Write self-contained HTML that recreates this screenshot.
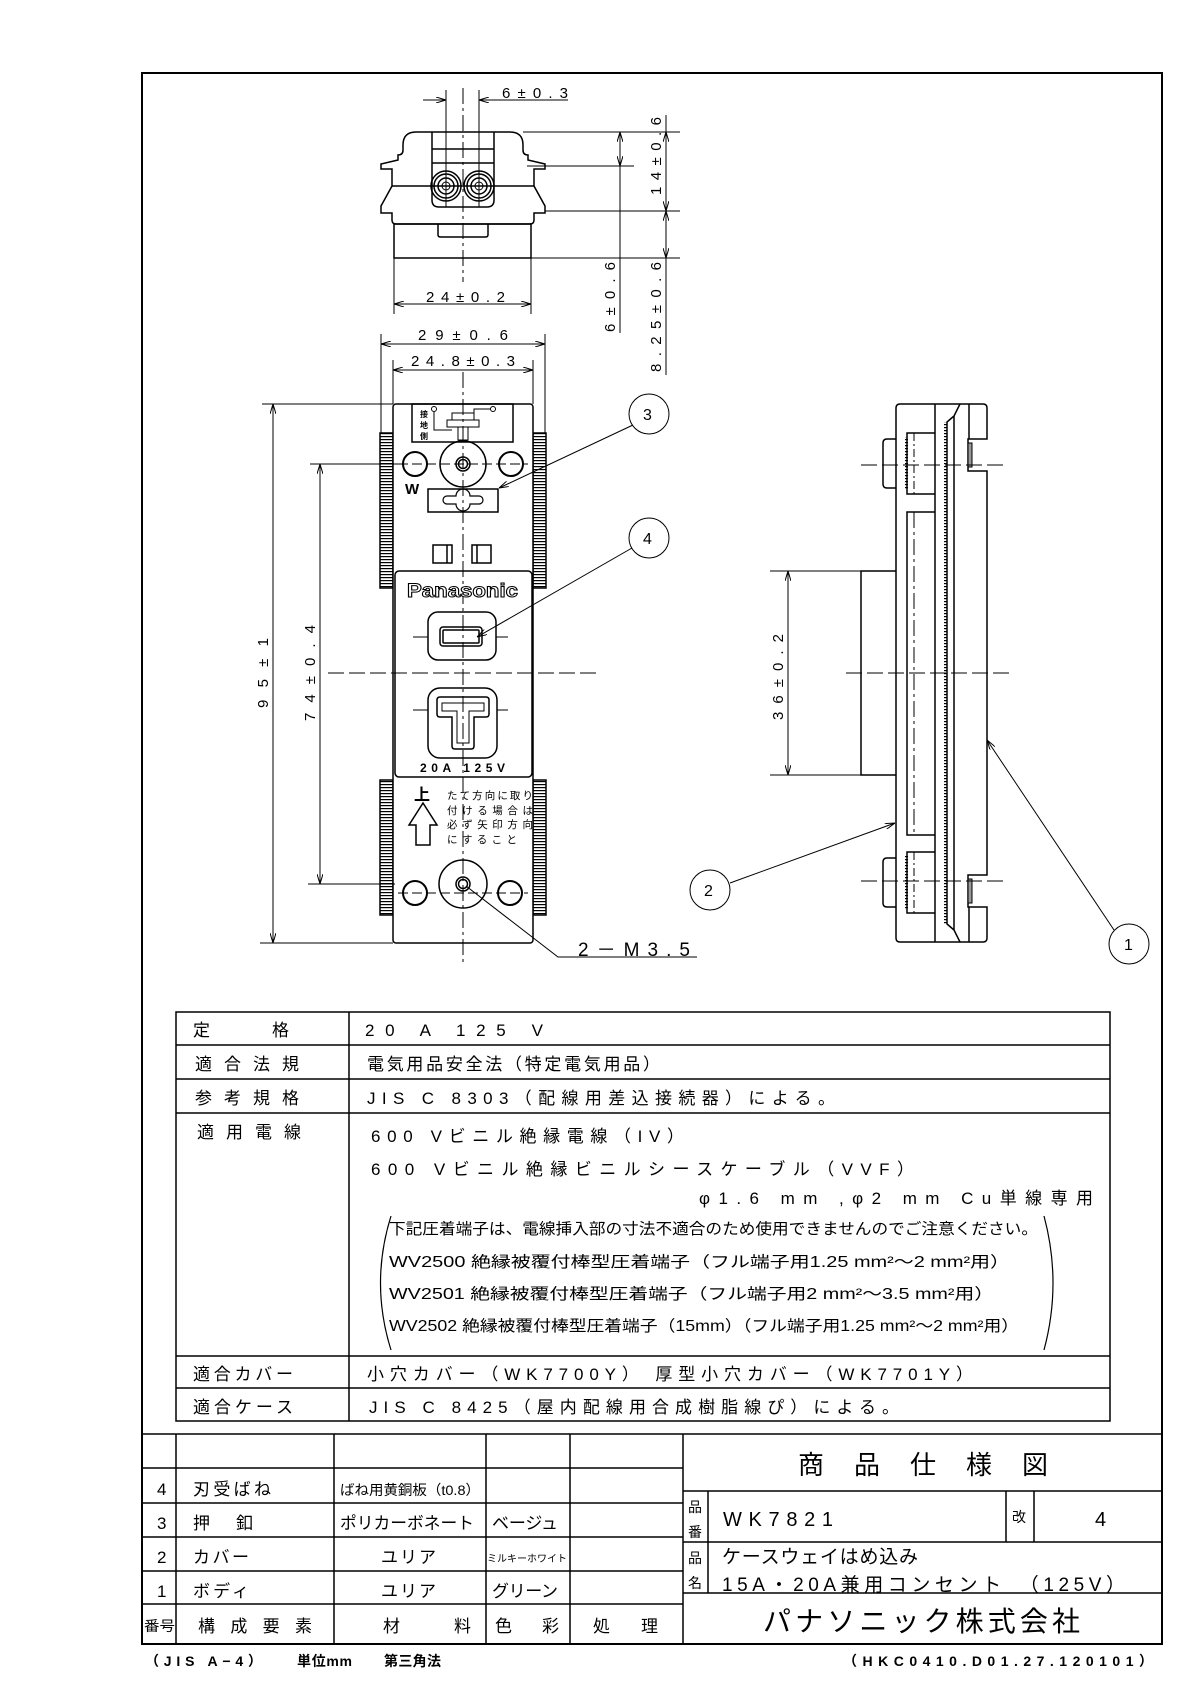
<!DOCTYPE html>
<html><head><meta charset="utf-8"><style>
html,body{margin:0;padding:0;background:#fff}
svg{display:block}
text{font-family:"Liberation Sans","Noto Sans CJK JP",sans-serif;fill:#000}
</style></head><body>
<svg width="1190" height="1683" viewBox="0 0 1190 1683" xmlns="http://www.w3.org/2000/svg">
<defs>
<marker id="ar" viewBox="0 0 10 6" refX="10" refY="3" markerWidth="10" markerHeight="6" orient="auto-start-reverse" markerUnits="userSpaceOnUse"><path d="M0,0 L10,3 L0,6" fill="none" stroke="#000" stroke-width="1"/></marker>
<pattern id="tk" width="10" height="3" patternUnits="userSpaceOnUse"><rect y="1" width="10" height="1.2" fill="#000"/></pattern>
</defs>
<g fill="none" stroke="#000">
<!-- outer border -->
<rect x="142" y="73" width="1020" height="1571" stroke-width="2"/>

<!-- ============ TOP VIEW ============ -->
<g stroke-width="1.5">
<path d="M403,145 Q403,132 416,132 L510,132 Q523,132 523,145 L523,150 Q523,155 528,155 L528,160 L545,164 L545,169 L534,169 L534,186 L545,206 L545,213 L534,213 L534,220 Q534,224 530,224 L396,224 Q392,224 392,220 L392,213 L381,213 L381,206 L392,186 L392,169 L381,169 L381,164 L398,160 L398,155 Q403,155 403,150 Z"/>
<line x1="392" y1="186" x2="534" y2="186"/>
<rect x="394" y="224" width="137" height="34"/>
<path d="M438,224 L438,235 Q438,237 441,237 L485,237 Q488,237 488,235 L488,224"/>
<path d="M432,132 L432,200 Q432,207 439,207 L487,207 Q494,207 494,200 L494,132"/>
<line x1="432" y1="149" x2="494" y2="149"/>
<line x1="432" y1="163" x2="494" y2="163"/>
<circle cx="446" cy="186" r="15"/><circle cx="446" cy="186" r="12"/><circle cx="446" cy="186" r="8"/><circle cx="446" cy="186" r="4" stroke-width="1"/>
<circle cx="479" cy="186" r="15"/><circle cx="479" cy="186" r="12"/><circle cx="479" cy="186" r="8"/><circle cx="479" cy="186" r="4" stroke-width="1"/>
</g>
<g stroke-width="1">
<line x1="446" y1="90" x2="446" y2="207"/>
<line x1="479" y1="90" x2="479" y2="207"/>
<line x1="463" y1="88" x2="463" y2="282" stroke-dasharray="16,4,3,4"/>
<line x1="423" y1="100" x2="446" y2="100" marker-end="url(#ar)"/>
<line x1="568" y1="100" x2="479" y2="100" marker-end="url(#ar)"/>
<!-- right dims -->
<line x1="523" y1="132" x2="680" y2="132"/>
<line x1="527" y1="166" x2="634" y2="166"/>
<line x1="545" y1="211" x2="680" y2="211"/>
<line x1="531" y1="258" x2="680" y2="258"/>
<line x1="620" y1="132" x2="620" y2="333"/>
<line x1="620" y1="150" x2="620" y2="132" marker-end="url(#ar)"/>
<line x1="620" y1="150" x2="620" y2="166" marker-end="url(#ar)"/>
<line x1="666" y1="115" x2="666" y2="375"/>
<line x1="666" y1="170" x2="666" y2="132" marker-end="url(#ar)"/>
<line x1="666" y1="170" x2="666" y2="211" marker-end="url(#ar)"/>
<line x1="666" y1="234" x2="666" y2="211" marker-end="url(#ar)"/>
<line x1="666" y1="234" x2="666" y2="258" marker-end="url(#ar)"/>
<!-- 24 dim -->
<line x1="394" y1="258" x2="394" y2="314"/>
<line x1="531" y1="258" x2="531" y2="314"/>
<line x1="463" y1="304" x2="394" y2="304" marker-end="url(#ar)"/>
<line x1="463" y1="304" x2="531" y2="304" marker-end="url(#ar)"/>
<!-- 29 & 24.8 dims -->
<line x1="381" y1="334" x2="381" y2="433"/>
<line x1="545" y1="334" x2="545" y2="433"/>
<line x1="463" y1="344" x2="381" y2="344" marker-end="url(#ar)"/>
<line x1="463" y1="344" x2="545" y2="344" marker-end="url(#ar)"/>
<line x1="393" y1="360" x2="393" y2="404"/>
<line x1="533" y1="360" x2="533" y2="404"/>
<line x1="463" y1="370" x2="393" y2="370" marker-end="url(#ar)"/>
<line x1="463" y1="370" x2="533" y2="370" marker-end="url(#ar)"/>
</g>

<!-- ============ FRONT VIEW ============ -->
<g stroke-width="1.5">
<rect x="380" y="433" width="13" height="155" fill="url(#tk)"/>
<rect x="533" y="433" width="13" height="155" fill="url(#tk)"/>
<rect x="380" y="780" width="13" height="135" fill="url(#tk)"/>
<rect x="533" y="780" width="13" height="135" fill="url(#tk)"/>
<rect x="393" y="404" width="140" height="539" rx="3" fill="#fff"/>
<rect x="412" y="404" width="101" height="38"/>
<rect x="395" y="571" width="137" height="206" rx="4"/>
<circle cx="463" cy="464" r="23"/><circle cx="463" cy="464" r="7"/><circle cx="463" cy="464" r="4.5"/>
<circle cx="415" cy="464" r="12" stroke-width="2"/><circle cx="511" cy="464" r="12" stroke-width="2"/>
<rect x="428" y="489" width="70" height="23"/>
<path d="M447,496 L456,496 A7,7 0 0 1 470,496 L479,496 A4,4 0 0 1 479,504 L470,504 A7,7 0 0 1 456,504 L447,504 A4,4 0 0 1 447,496 Z" stroke-width="1.2"/>
<rect x="433" y="545" width="19" height="18"/><line x1="447" y1="545" x2="447" y2="563"/>
<rect x="472" y="545" width="19" height="18"/><line x1="477" y1="545" x2="477" y2="563"/>
<rect x="428" y="612" width="68" height="48" rx="10"/>
<rect x="440" y="627" width="42" height="19" rx="3"/>
<rect x="443" y="630" width="36" height="13" rx="1"/>
<rect x="428" y="688" width="69" height="70" rx="12"/>
<path d="M437,700 Q437,697 440,697 L486,697 Q489,697 489,700 L489,714 Q489,717 486,717 L474,717 L474,746 Q474,749 471,749 L455,749 Q452,749 452,746 L452,717 L440,717 Q437,717 437,714 Z"/>
<path d="M442,703 L484,703 L484,711 L469,711 L469,743 L457,743 L457,711 L442,711 Z" stroke-width="1"/>
<circle cx="463" cy="884" r="24"/><circle cx="463" cy="884" r="7"/><circle cx="463" cy="884" r="4.5"/>
<circle cx="415" cy="893" r="12" stroke-width="2"/><circle cx="510" cy="893" r="12" stroke-width="2"/>
<path d="M423,803 L437,825 L430,825 L430,845 L416,845 L416,825 L409,825 Z"/>
</g>
<g stroke-width="1">
<circle cx="434" cy="409" r="2.5"/><circle cx="493" cy="409" r="2.5"/>
<path d="M434,412 L434,430 L452,430"/><path d="M490,409 L474,409 L474,414"/>
<rect x="452" y="413" width="22" height="7"/><rect x="447" y="420" width="32" height="7"/><rect x="458" y="427" width="10" height="13"/>
<line x1="413" y1="637" x2="428" y2="637"/><line x1="496" y1="637" x2="508" y2="637"/>
<line x1="413" y1="710" x2="428" y2="710"/><line x1="497" y1="710" x2="508" y2="710"/>
<line x1="463" y1="372" x2="463" y2="965" stroke-dasharray="16,4,3,4"/>
<line x1="328" y1="673" x2="598" y2="673" stroke-dasharray="16,5"/>
<line x1="398" y1="464" x2="528" y2="464" stroke-dasharray="10,4"/>
<line x1="398" y1="893" x2="528" y2="893" stroke-dasharray="10,4"/>
<!-- 95 / 74 dims -->
<line x1="262" y1="404" x2="393" y2="404"/>
<line x1="260" y1="943" x2="393" y2="943"/>
<line x1="273" y1="673" x2="273" y2="404" marker-end="url(#ar)"/>
<line x1="273" y1="673" x2="273" y2="943" marker-end="url(#ar)"/>
<line x1="310" y1="464" x2="400" y2="464"/>
<line x1="308" y1="884" x2="395" y2="884"/>
<line x1="320" y1="673" x2="320" y2="464" marker-end="url(#ar)"/>
<line x1="320" y1="673" x2="320" y2="884" marker-end="url(#ar)"/>
<!-- leaders -->
<line x1="633" y1="425" x2="499" y2="488" marker-end="url(#ar)"/>
<line x1="632" y1="548" x2="477" y2="637" marker-end="url(#ar)"/>
<path d="M697,957 L558,957 L466,886"/>
<circle cx="649" cy="414" r="20"/>
<circle cx="649" cy="538" r="20"/>
<circle cx="710" cy="890" r="20"/>
<circle cx="1129" cy="944" r="20"/>
<line x1="730" y1="883" x2="895" y2="823" marker-end="url(#ar)"/>
<line x1="1114" y1="930" x2="987" y2="740" marker-end="url(#ar)"/>
</g>

<!-- ============ SIDE VIEW ============ -->
<g stroke-width="1.5">
<path d="M896,408 Q896,404 900,404 L983,404 Q987,404 987,408 L987,439 L968,439 L968,471 L987,471 L987,875 L968,875 L968,907 L987,907 L987,938 Q987,942 983,942 L900,942 Q896,942 896,938 Z"/>
<line x1="935" y1="404" x2="935" y2="942"/>
<line x1="954" y1="416" x2="954" y2="930"/>
<line x1="969" y1="404" x2="969" y2="439"/><line x1="969" y1="907" x2="969" y2="942"/>
<path d="M954,416 L947,422 L947,924 L954,930"/>
<path d="M954,416 L960,404"/><path d="M954,930 L960,942"/>
<path d="M896,439 L887,439 Q883,439 883,443 L883,484 Q883,488 887,488 L896,488"/>
<path d="M896,858 L887,858 Q883,858 883,862 L883,903 Q883,907 887,907 L896,907"/>
<path d="M935,433 L907,433 L907,494 L935,494"/>
<path d="M935,512 L907,512 L907,835 L935,835"/>
<path d="M935,852 L907,852 L907,913 L935,913"/>
<path d="M896,571 L861,571 L861,775 L896,775"/>
<rect x="968" y="443" width="4" height="24" fill="#999" stroke-width="1"/>
<rect x="968" y="879" width="4" height="24" fill="#999" stroke-width="1"/>
</g>
<rect x="944" y="422" width="3" height="502" fill="url(#tk)" stroke="none"/>
<rect x="905" y="437" width="3" height="53" fill="url(#tk)" stroke="none"/>
<rect x="905" y="856" width="3" height="53" fill="url(#tk)" stroke="none"/>
<g stroke-width="1">
<line x1="914" y1="433" x2="914" y2="494" stroke-dasharray="8,3,2,3"/>
<line x1="914" y1="512" x2="914" y2="835" stroke-dasharray="16,4,3,4"/>
<line x1="914" y1="852" x2="914" y2="913" stroke-dasharray="8,3,2,3"/>
<line x1="861" y1="465" x2="1003" y2="465" stroke-dasharray="16,5"/>
<line x1="861" y1="881" x2="1003" y2="881" stroke-dasharray="16,5"/>
<line x1="846" y1="673" x2="1013" y2="673" stroke-dasharray="16,5"/>
<line x1="770" y1="571" x2="861" y2="571"/>
<line x1="770" y1="775" x2="861" y2="775"/>
<line x1="788" y1="673" x2="788" y2="571" marker-end="url(#ar)"/>
<line x1="788" y1="673" x2="788" y2="775" marker-end="url(#ar)"/>
</g>

<!-- ============ TABLES ============ -->
<g stroke-width="1.5">
<rect x="176" y="1012" width="934" height="409"/>
<line x1="176" y1="1045" x2="1110" y2="1045"/>
<line x1="176" y1="1079" x2="1110" y2="1079"/>
<line x1="176" y1="1113" x2="1110" y2="1113"/>
<line x1="176" y1="1356" x2="1110" y2="1356"/>
<line x1="176" y1="1388" x2="1110" y2="1388"/>
<line x1="349" y1="1012" x2="349" y2="1421"/>
<line x1="142" y1="1434" x2="1162" y2="1434"/>
<line x1="142" y1="1468" x2="683" y2="1468"/>
<line x1="142" y1="1503" x2="683" y2="1503"/>
<line x1="142" y1="1537" x2="683" y2="1537"/>
<line x1="142" y1="1571" x2="683" y2="1571"/>
<line x1="142" y1="1604" x2="683" y2="1604"/>
<line x1="176" y1="1434" x2="176" y2="1644"/>
<line x1="334" y1="1434" x2="334" y2="1644"/>
<line x1="486" y1="1434" x2="486" y2="1644"/>
<line x1="570" y1="1434" x2="570" y2="1644"/>
<line x1="683" y1="1434" x2="683" y2="1644"/>
<line x1="683" y1="1491" x2="1162" y2="1491"/>
<line x1="683" y1="1542" x2="1162" y2="1542"/>
<line x1="683" y1="1593" x2="1162" y2="1593"/>
<line x1="708" y1="1491" x2="708" y2="1593"/>
<line x1="1006" y1="1491" x2="1006" y2="1542"/>
<line x1="1034" y1="1491" x2="1034" y2="1542"/>
</g>
<path d="M391,1216 Q370,1283 391,1350" stroke-width="1.2"/>
<path d="M1044,1216 Q1062,1283 1044,1350" stroke-width="1.2"/>
</g>

<!-- ============ TEXT ============ -->
<g font-size="15">
<text x="502" y="98" textLength="66" lengthAdjust="spacing">6±0.3</text>
<text x="426" y="302" textLength="79" lengthAdjust="spacing">24±0.2</text>
<text x="418" y="340" textLength="90" lengthAdjust="spacing">29±0.6</text>
<text x="411" y="366" textLength="104" lengthAdjust="spacing">24.8±0.3</text>
<text transform="translate(615,332) rotate(-90)" textLength="70" lengthAdjust="spacing">6±0.6</text>
<text transform="translate(661,195) rotate(-90)" textLength="78" lengthAdjust="spacing">14±0.6</text>
<text transform="translate(661,372) rotate(-90)" textLength="110" lengthAdjust="spacing">8.25±0.6</text>
<text transform="translate(268,708) rotate(-90)" textLength="70" lengthAdjust="spacing">95±1</text>
<text transform="translate(315,721) rotate(-90)" textLength="96" lengthAdjust="spacing">74±0.4</text>
<text transform="translate(783,720) rotate(-90)" textLength="86" lengthAdjust="spacing">36±0.2</text>
<text x="578" y="956" font-size="19" textLength="112" lengthAdjust="spacing">2－M3.5</text>
<text x="643" y="420" font-size="16">3</text>
<text x="643" y="544" font-size="16">4</text>
<text x="704" y="896" font-size="16">2</text>
<text x="1124" y="950" font-size="16">1</text>
</g>
<text x="420" y="417" font-size="8" font-weight="bold">接</text>
<text x="420" y="428" font-size="8" font-weight="bold">地</text>
<text x="420" y="439" font-size="8" font-weight="bold">側</text>
<text x="405" y="494" font-size="15" font-weight="bold">W</text>
<text x="407" y="597" font-size="19" font-weight="bold" fill="#fff" stroke="#000" stroke-width="1" textLength="111" lengthAdjust="spacingAndGlyphs" style="fill:#fff">Panasonic</text>
<text x="420" y="772" font-size="12" font-weight="bold" textLength="85" lengthAdjust="spacing">20A 125V</text>
<text x="414" y="800" font-size="16" font-weight="bold">上</text>
<g font-size="10.5">
<text x="447" y="799" textLength="86" lengthAdjust="spacing">たて方向に取り</text>
<text x="447" y="814" textLength="86" lengthAdjust="spacing">付ける場合は</text>
<text x="447" y="828" textLength="86" lengthAdjust="spacing">必ず矢印方向</text>
<text x="447" y="843" textLength="70" lengthAdjust="spacing">にすること</text>
</g>

<g font-size="17">
<text x="193" y="1036" textLength="96" lengthAdjust="spacing">定　格</text>
<text x="365" y="1036" textLength="178" lengthAdjust="spacing">20 A 125 V</text>
<text x="195" y="1070" textLength="104" lengthAdjust="spacing">適合法規</text>
<text x="367" y="1070" textLength="293" lengthAdjust="spacing">電気用品安全法（特定電気用品）</text>
<text x="195" y="1104" textLength="104" lengthAdjust="spacing">参考規格</text>
<text x="367" y="1104" textLength="468" lengthAdjust="spacing">JIS C 8303（配線用差込接続器）による。</text>
<text x="197" y="1138" textLength="104" lengthAdjust="spacing">適用電線</text>
<text x="371" y="1142" textLength="313" lengthAdjust="spacing">600 Vビニル絶縁電線（IV）</text>
<text x="371" y="1175" textLength="543" lengthAdjust="spacing">600 Vビニル絶縁ビニルシースケーブル（VVF）</text>
<text x="699" y="1204" textLength="394" lengthAdjust="spacing">φ1.6 mm ,φ2 mm Cu単線専用</text>
<text x="193" y="1380" textLength="100" lengthAdjust="spacing">適合カバー</text>
<text x="367" y="1380" textLength="606" lengthAdjust="spacing">小穴カバー（WK7700Y） 厚型小穴カバー（WK7701Y）</text>
<text x="193" y="1413" textLength="100" lengthAdjust="spacing">適合ケース</text>
<text x="369" y="1413" textLength="530" lengthAdjust="spacing">JIS C 8425（屋内配線用合成樹脂線ぴ）による。</text>
</g>
<g font-size="15.5">
<text x="389" y="1234" textLength="649" lengthAdjust="spacingAndGlyphs">下記圧着端子は、電線挿入部の寸法不適合のため使用できませんのでご注意ください。</text>
<text x="389" y="1267" textLength="621" lengthAdjust="spacingAndGlyphs">WV2500  絶縁被覆付棒型圧着端子（フル端子用1.25 mm²～2 mm²用）</text>
<text x="389" y="1299" textLength="605" lengthAdjust="spacingAndGlyphs">WV2501  絶縁被覆付棒型圧着端子（フル端子用2 mm²～3.5 mm²用）</text>
<text x="389" y="1331" textLength="630" lengthAdjust="spacingAndGlyphs">WV2502   絶縁被覆付棒型圧着端子（15mm）（フル端子用1.25 mm²～2 mm²用）</text>
</g>

<g font-size="17">
<text x="157" y="1495">4</text><text x="193" y="1495" textLength="78" lengthAdjust="spacing">刃受ばね</text>
<text x="157" y="1529">3</text><text x="193" y="1529" textLength="60" lengthAdjust="spacing">押　釦</text>
<text x="157" y="1563">2</text><text x="193" y="1563" textLength="56" lengthAdjust="spacing">カバー</text>
<text x="157" y="1597">1</text><text x="193" y="1597" textLength="56" lengthAdjust="spacing">ボディ</text>
<text x="381" y="1563" textLength="55" lengthAdjust="spacing">ユリア</text>
<text x="381" y="1597" textLength="55" lengthAdjust="spacing">ユリア</text>
<text x="492" y="1529" textLength="66" lengthAdjust="spacing">ベージュ</text>
<text x="492" y="1597" textLength="66" lengthAdjust="spacing">グリーン</text>
<text x="198" y="1632" textLength="114" lengthAdjust="spacing">構成要素</text>
<text x="383" y="1632" textLength="88" lengthAdjust="spacing">材　料</text>
<text x="495" y="1632" textLength="64" lengthAdjust="spacing">色　彩</text>
<text x="593" y="1632" textLength="65" lengthAdjust="spacing">処　理</text>
<text x="340" y="1529" textLength="134" lengthAdjust="spacingAndGlyphs">ポリカーボネート</text>
</g>
<text x="340" y="1495" font-size="14" textLength="140" lengthAdjust="spacingAndGlyphs">ばね用黄銅板（t0.8）</text>
<text x="487" y="1562" font-size="10" textLength="80" lengthAdjust="spacingAndGlyphs">ミルキーホワイト</text>
<text x="144" y="1631" font-size="14" textLength="31" lengthAdjust="spacingAndGlyphs">番号</text>

<text x="798" y="1474" font-size="26" textLength="250" lengthAdjust="spacing">商品仕様図</text>
<text x="688" y="1512" font-size="14">品</text><text x="688" y="1537" font-size="14">番</text>
<text x="723" y="1526" font-size="20" textLength="110" lengthAdjust="spacing">WK7821</text>
<text x="1012" y="1522" font-size="14">改</text>
<text x="1095" y="1526" font-size="20">4</text>
<text x="688" y="1563" font-size="14">品</text><text x="688" y="1588" font-size="14">名</text>
<text x="722" y="1563" font-size="19" textLength="196" lengthAdjust="spacing">ケースウェイはめ込み</text>
<text x="722" y="1591" font-size="19" textLength="403" lengthAdjust="spacing">15A・20A兼用コンセント　（125V）</text>
<text x="763" y="1631" font-size="28" textLength="317" lengthAdjust="spacing">パナソニック株式会社</text>

<g font-size="14" font-weight="bold">
<text x="145" y="1666" textLength="117" lengthAdjust="spacing">（JIS A−4）</text>
<text x="297" y="1666" textLength="55" lengthAdjust="spacing">単位mm</text>
<text x="384" y="1666" textLength="57" lengthAdjust="spacing">第三角法</text>
<text x="843" y="1666" textLength="310" lengthAdjust="spacing">（HKC0410.D01.27.120101）</text>
</g>
</svg>
</body></html>
